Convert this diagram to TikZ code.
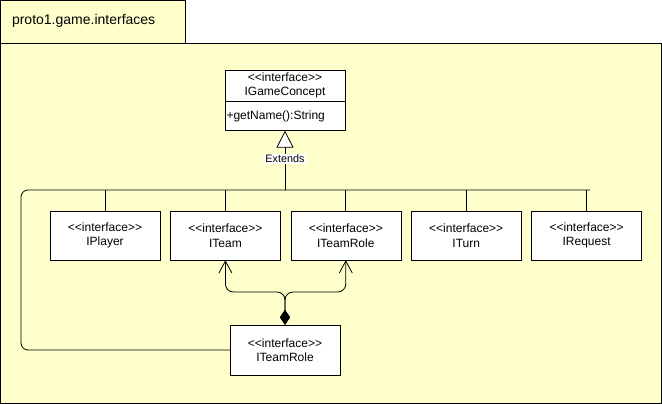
\documentclass[tikz,border=0pt]{standalone}
\usepackage{fontspec}
\setmainfont{Liberation Sans}
\usetikzlibrary{positioning, arrows.meta}
\definecolor{pkgfill}{HTML}{FFFFCC}
\newcommand{\stereo}{{<}{<}interface{>}{>}}
\tikzstyle{iface} = [rectangle, 
minimum width=110pt, 
minimum height=49pt, 
inner sep=0pt,
align=center, 
font=\fontsize{12}{14.5}\selectfont,
draw=black, 
fill=white]
\tikzstyle{pkg} = [draw=black, fill=pkgfill, line width=0.8pt]
\tikzstyle{line} = [line width=0.8pt]
\tikzstyle{extends} = [line width=0.8pt, -{Triangle[open, length=17pt, width=17pt, fill=white]}]
\tikzstyle{compose} = [line width=0.8pt, rounded corners=8pt,
{Diamond[length=15pt, width=10pt]}-{Straight Barb[length=12pt, width=13pt]}]

\begin{document}
\begin{tikzpicture}[x=1pt, y=-1pt]
\useasboundingbox (0,0) rectangle (662,404);

% package frame
\draw [pkg] (0.5,0.5) rectangle (185,43);
\draw [pkg] (0.5,43) rectangle (661.5,403.5);
\node (title) [anchor=west, font=\fontsize{14}{16}\selectfont] at (8.5,21) {proto1.game.interfaces};

% top interface
\node (gc) [iface, minimum width=120pt, minimum height=31pt] at (285,85.5) {\stereo\\IGameConcept};
\node (gcops) [iface, minimum width=120pt, minimum height=29pt, text width=117pt, align=left, inner xsep=1.5pt, below=0pt of gc] {+getName():String};

% row of interfaces
\node (player) [iface] at (105,235.5) {\stereo\\IPlayer};
\node (team) [iface, right=10pt of player] {\stereo\\ITeam};
\node (role) [iface, right=10pt of team] {\stereo\\ITeamRole};
\node (turn) [iface, right=10pt of role] {\stereo\\ITurn};
\node (request) [iface, right=10pt of turn] {\stereo\\IRequest};

% bottom interface
\node (bot) [iface, minimum height=50pt] at (285,350) {\stereo\\ITeamRole};

\coordinate (busL) at (21,190);
\coordinate (busM) at (285,190);
\coordinate (busR) at (590,190);
\coordinate (split) at (285,292);

\draw [line, rounded corners=7pt] (bot.west) -| (busL) -- (busR);
\draw [line] (player.north) -- (player.north |- busL);
\draw [line] (team.north) -- (team.north |- busL);
\draw [line] (role.north) -- (role.north |- busL);
\draw [line] (turn.north) -- (turn.north |- busL);
\draw [line] (request.north) -- (request.north |- busL);
\draw [extends] (busM) -- node[pos=0.52, fill=white, inner sep=1pt, font=\fontsize{10.8}{12}\selectfont] {Extends} (gcops.south);

\draw [compose] (bot.north) -- (split) -| (team.south);
\draw [compose] (bot.north) -- (split) -| (role.south);

\end{tikzpicture}
\end{document}
